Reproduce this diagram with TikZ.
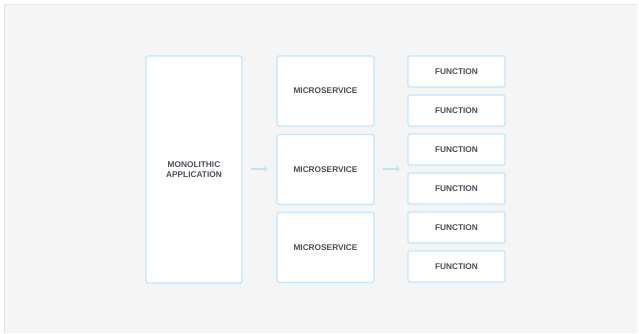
\documentclass[tikz,border=0pt]{standalone}
\usepackage{fontspec}
\setmainfont{Liberation Sans}
\usetikzlibrary{arrows.meta}
\definecolor{panel}{HTML}{F5F5F5}
\definecolor{panelline}{HTML}{E4E4E4}
\definecolor{boxline}{HTML}{C4E5FB}
\definecolor{arrowc}{HTML}{BDE2FA}
\definecolor{txt}{HTML}{4A4F56}
\tikzset{
  box/.style={draw=boxline, line width=1.3pt, fill=white, rounded corners=2pt, inner sep=0pt,
    font=\fontsize{8.3}{10}\selectfont\bfseries, text=txt, align=center},
  conn/.style={draw=arrowc, line width=1.3pt, -{Stealth[length=4pt,width=6pt]}}
}
\begin{document}
\begin{tikzpicture}[x=1pt,y=-1pt]
\useasboundingbox (0,0) rectangle (639,333);
\fill[white] (0,0) rectangle (639,333);
\fill[panel] (4,4) rectangle (637,333);
\draw[panelline, line width=1pt] (4,333) -- (4,4) -- (637,4);
% monolith
\node[box, minimum width=96pt, minimum height=227pt] (mono) at (194,169.5) {MONOLITHIC\\APPLICATION};
% microservices
\node[box, minimum width=97pt, minimum height=70pt] (ms1) at (325.5,91) {MICROSERVICE};
\node[box, minimum width=97pt, minimum height=70pt] (ms2) at (325.5,169.5) {MICROSERVICE};
\node[box, minimum width=97pt, minimum height=70pt] (ms3) at (325.5,247.5) {MICROSERVICE};
% functions
\foreach \i/\y in {1/71.5,2/110.5,3/149.5,4/188.5,5/227.5,6/266.5}{
  \node[box, minimum width=97pt, minimum height=31pt] (f\i) at (456.5,\y) {FUNCTION};
}
% arrows
\coordinate (a1s) at (251,169);
\coordinate (a1e) at (268,169);
\coordinate (a2s) at (383,169);
\coordinate (a2e) at (400,169);
\draw[conn] (a1s) -- (a1e);
\draw[conn] (a2s) -- (a2e);
\end{tikzpicture}
\end{document}
